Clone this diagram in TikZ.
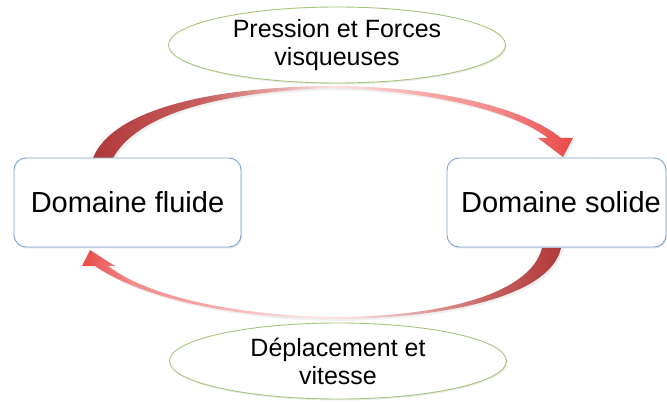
\documentclass[tikz,border=0pt]{standalone}
\usepackage{fontspec}
\setmainfont{Liberation Sans}
\usetikzlibrary{shapes.geometric,shadows}
\definecolor{boxline}{HTML}{7EA4D6}
\definecolor{ellline}{HTML}{A8C67A}
\definecolor{arrdark}{HTML}{B03A3A}
\definecolor{arrmid}{HTML}{C65C5C}
\definecolor{arrsoft}{HTML}{E4A4A4}
\definecolor{arrlight}{HTML}{FAE2E2}
\definecolor{arrpink}{HTML}{F8A6A6}
\definecolor{arrpink2}{HTML}{F48A8A}
\definecolor{arrred}{HTML}{E84848}
\pgfdeclarehorizontalshading{toparrowshade}{100bp}{color(0bp)=(arrdark); color(25bp)=(arrdark); color(36bp)=(arrmid); color(44bp)=(arrsoft); color(50bp)=(arrlight); color(60bp)=(arrpink); color(67bp)=(arrpink2); color(75bp)=(arrred); color(100bp)=(arrred)}
\pgfdeclarehorizontalshading{botarrowshade}{100bp}{color(0bp)=(arrred); color(25bp)=(arrred); color(30bp)=(arrpink2); color(38bp)=(arrpink); color(48bp)=(arrlight); color(52bp)=(arrlight); color(60bp)=(arrsoft); color(68bp)=(arrmid); color(75bp)=(arrdark); color(100bp)=(arrdark)}
\tikzset{
  domainbox/.style={draw=boxline, line width=0.9pt, fill=white, rounded corners=12pt,
    minimum width=#1, minimum height=89pt, inner sep=0pt,
    font=\fontsize{29}{34}\selectfont,
    general shadow={fill=black, opacity=0.10, shadow xshift=1pt, shadow yshift=-1.5pt}},
  flowell/.style={draw=ellline, line width=0.9pt, fill=white, ellipse,
    minimum width=337pt, minimum height=76pt, inner sep=0pt, align=center,
    font=\fontsize{25}{28}\selectfont,
    general shadow={fill=black, opacity=0.08, shadow xshift=1pt, shadow yshift=-1.5pt}},
  bentarrow/.style={draw=none, shading=#1, shading angle=0},
  arrowshadow/.style={fill=black, opacity=0.06}
}
\begin{document}
\begin{tikzpicture}[x=1pt,y=-1pt]
\useasboundingbox (0,0) rectangle (667,403);
\fill[white] (0,0) rectangle (667,403);
% top arrow: fluid -> solid
\fill[arrowshadow, shift={(2,2)}]
  (93,158) .. controls (112,110) and (210,87) .. (330,86) .. controls (430,86) and (520,105) .. (561,138)
  -- (573,138) -- (563,157) -- (538,138) -- (548,138)
  .. controls (515,112) and (430,90) .. (330,88) .. controls (230,92) and (140,110) .. (113,158) -- cycle;
\path[bentarrow=toparrowshade]
  (93,158) .. controls (112,110) and (210,87) .. (330,86) .. controls (430,86) and (520,105) .. (561,138)
  -- (573,138) -- (563,157) -- (538,138) -- (548,138)
  .. controls (515,112) and (430,90) .. (330,88) .. controls (230,92) and (140,110) .. (113,158) -- cycle;
% bottom arrow: solid -> fluid
\fill[arrowshadow, shift={(2,2)}]
  (561,248) .. controls (550,298) and (440,318) .. (340,319) .. controls (240,319) and (145,300) .. (95,266)
  -- (82,266) -- (90,250) -- (115,266) -- (108,266)
  .. controls (150,298) and (240,316) .. (340,317) .. controls (440,316) and (530,295) .. (542,248) -- cycle;
\path[bentarrow=botarrowshade]
  (561,248) .. controls (550,298) and (440,318) .. (340,319) .. controls (240,319) and (145,300) .. (95,266)
  -- (82,266) -- (90,250) -- (115,266) -- (108,266)
  .. controls (150,298) and (240,316) .. (340,317) .. controls (440,316) and (530,295) .. (542,248) -- cycle;
% nodes
\node[flowell] (force) at (337,45) {Pression et Forces\\visqueuses};
\node[flowell] (depl) at (338,361) {Déplacement et\\vitesse};
\node[domainbox=227pt] (fluide) at (127.5,202.5) {Domaine fluide};
\node[domainbox=219pt] (solide) at (556.5,202.5) {\hspace*{9pt}Domaine solide};
\end{tikzpicture}
\end{document}
